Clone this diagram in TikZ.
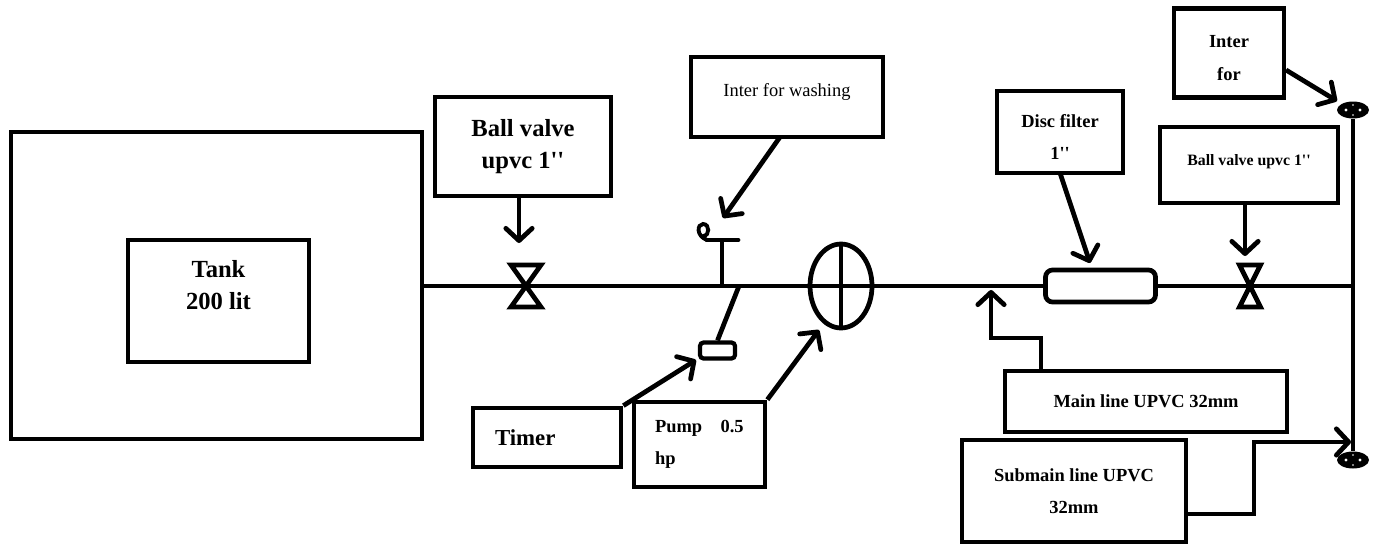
\documentclass[tikz,border=0pt]{standalone}
\usepackage{fontspec}
\setmainfont{Liberation Serif}[Ligatures=TeXOff]
\usetikzlibrary{arrows.meta,shapes.geometric}
\tikzset{
  pipe/.style={line width=2.7pt},
  feed/.style={line width=2.7pt,-{Straight Barb[length=7pt,width=15pt,round,line width=2.7pt]}},
  box/.style={draw,line width=2.7pt,inner sep=0pt,align=center},
  bigtext/.style={font=\fontsize{14}{18}\selectfont\bfseries},
  smalltext/.style={font=\fontsize{10.5}{18.5}\selectfont\bfseries},
  endvalve/.style={ellipse,fill=black,inner sep=0pt,minimum width=0.64cm,minimum height=0.34cm},
}
\begin{document}
\begin{tikzpicture}[x=0.02cm,y=-0.02cm]
\useasboundingbox (0,0) rectangle (1375,544);

% tank and labels
\node[box,minimum width=8.22cm,minimum height=6.14cm] (tank) at (216.5,285.5) {};
\node[box,bigtext,minimum width=3.62cm,minimum height=2.44cm] (tanklabel) at (218.5,301) {Tank\\200 lit\\~};
\node[box,bigtext,minimum width=3.52cm,minimum height=1.98cm] (ballbox) at (523,146.5) {Ball valve\\upvc 1''};
\node[box,minimum width=3.84cm,minimum height=1.6cm,font=\fontsize{10.5}{12}\selectfont] (washbox) at (787,97) {Inter for washing\\[-4pt]~};
\node[box,smalltext,minimum width=2.52cm,minimum height=1.64cm] (discbox) at (1060,132) {\rule{0pt}{13pt}Disc filter\\1''};
\node[box,smalltext,minimum width=2.2cm,minimum height=1.78cm] (interbox) at (1229,53) {\rule{0pt}{12.6pt}Inter\\for};
\node[box,minimum width=3.56cm,minimum height=1.52cm,font=\fontsize{9}{12}\selectfont\bfseries] (smallball) at (1249,165) {Ball valve upvc 1''\\[-6pt]~};
\node[box,smalltext,minimum width=5.64cm,minimum height=1.22cm] (mainbox) at (1146,401.5) {Main line UPVC 32mm};
\node[box,smalltext,minimum width=4.48cm,minimum height=2.04cm] (subbox) at (1074,491) {Submain line UPVC\\32mm};
\node[box,minimum width=2.96cm,minimum height=1.18cm,font=\fontsize{13}{16}\selectfont\bfseries,inner xsep=0.44cm,text width=2.08cm,align=left] (timerbox) at (547,437.5) {Timer};
\node[box,smalltext,minimum width=2.62cm,minimum height=1.7cm,inner xsep=0.42cm,text width=1.78cm,align=left] (pumpbox) at (699.5,444.5) {Pump~~~0.5\\hp};

% pipe symbols
\node[draw,ellipse,line width=2.7pt,inner sep=0pt,minimum width=1.24cm,minimum height=1.68cm] (pumpsym) at (841,286) {};
\node[draw,rounded corners=4pt,line width=2.7pt,inner sep=0pt,minimum width=2.2cm,minimum height=0.64cm] (filter) at (1100.5,286) {};
\node[draw,rounded corners=2pt,line width=2.4pt,inner sep=0pt,minimum width=0.7cm,minimum height=0.32cm] (timersym) at (717.5,350.5) {};
\node[endvalve] (topvalve) at (1353,110) {};
\node[endvalve] (lowvalve) at (1353,460) {};
\foreach \vy in {110,460} {
  \fill[white] (1346,\vy) circle (1.6) (1360,\vy) circle (1.6);
  \fill[white] (1353,\vy-5) circle (0.8) (1353,\vy+5) circle (0.8);
}
\coordinate (valveA) at (526,286);
\coordinate (valveB) at (1250,286);
\coordinate (washtee) at (722,286);
\coordinate (washtop) at (722,240);
\coordinate (timertee) at (739,286);
\coordinate (maintee) at (991,290);
\coordinate (mainbend) at (991,338);
\coordinate (mainup) at (1041,338);
\coordinate (rightend) at (1353,286);
\coordinate (subjogA) at (1254,514);
\coordinate (subjogB) at (1254,442);
\coordinate (subtip) at (1351,442);

% main run
\draw[pipe] (tank.east |- pumpsym.west) -- (pumpsym.west);
\draw[pipe] (pumpsym.west) -- (pumpsym.east);
\draw[pipe] (pumpsym.north) -- (pumpsym.south);
\draw[pipe] (pumpsym.east) -- (filter.west);
\draw[pipe] (filter.east) -- (rightend);
\draw[pipe] (topvalve) -- (lowvalve);
\draw[pipe,line join=miter] (valveA) ++(-15,-21) -- ++(30,0) -- ++(-30,42) -- ++(30,0) -- cycle;
\draw[pipe,line join=miter] (valveB) ++(-10.5,-21) -- ++(21,0) -- ++(-21,42) -- ++(21,0) -- cycle;

% inlet and timer
\draw[pipe] (washtee) -- (washtop);
\draw[pipe,line cap=round] (707,240) -- (738,240);
\draw[pipe,line width=2.2pt] (707,240) .. controls (696,236) and (697,224) .. (703,224) .. controls (710,224) and (710,236) .. (703,236);
\draw[pipe] (timertee) -- (timersym.north);

% arrows
\draw[feed] (519,197) -- (519,243);
\draw[feed] (780,137) -- (723,218);
\draw[feed] (1060,173) -- (1090,263);
\draw[feed] (1245,203) -- (1245,256);
\draw[feed] (1286,70) -- (1337,101);
\draw[feed] (timerbox.north east) -- (696,360);
\draw[feed] (pumpbox.north east) -- (819,330);
\draw[feed] (mainbox.north -| mainup) -- (mainup) -- (mainbend) -- (maintee);
\draw[feed] (subbox.east |- subjogA) -- (subjogA) -- (subjogB) -- (subtip);
\end{tikzpicture}
\end{document}
